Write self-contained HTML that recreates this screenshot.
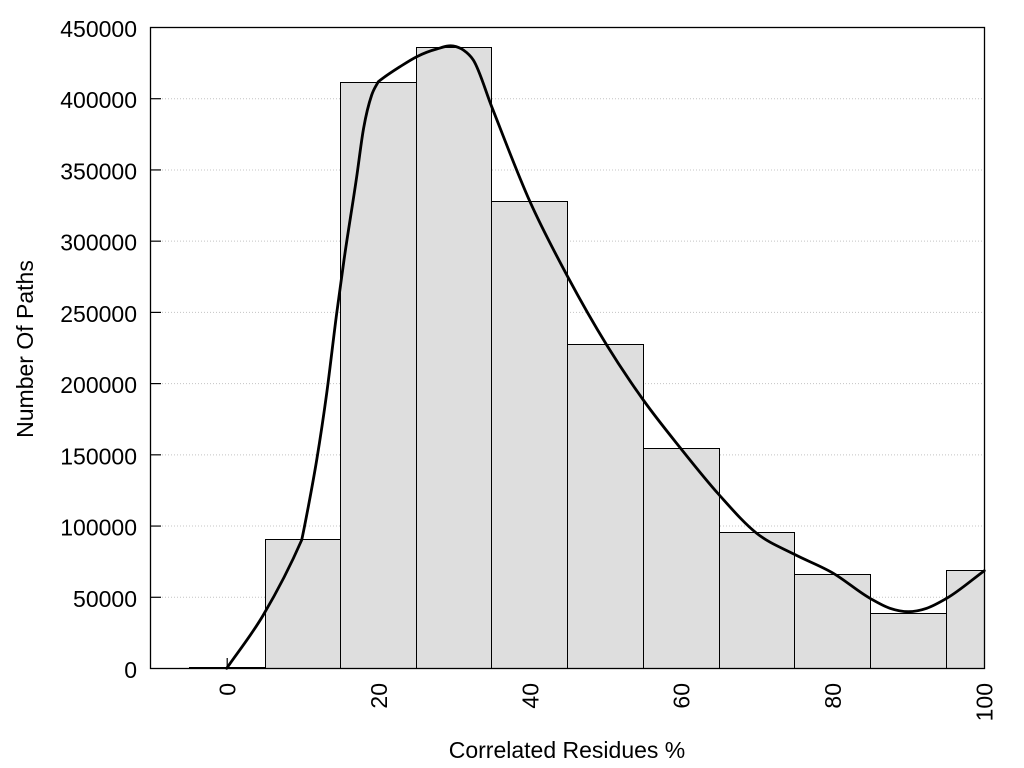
<!DOCTYPE html>
<html>
<head>
<meta charset="utf-8">
<style>
  html, body { margin: 0; padding: 0; background: #ffffff; }
  svg { display: block; }
  text { font-family: "Liberation Sans", Arial, sans-serif; fill: #000; }
</style>
</head>
<body>
<svg width="1024" height="768" viewBox="0 0 1024 768" xmlns="http://www.w3.org/2000/svg">
  <rect x="0" y="0" width="1024" height="768" fill="#ffffff"/>

  <!-- grid lines (dotted) -->
  <g stroke="#c4c4c4" stroke-width="1" stroke-dasharray="1 2" fill="none">
    <line x1="162" y1="597.28" x2="984" y2="597.28"/>
    <line x1="162" y1="526.06" x2="984" y2="526.06"/>
    <line x1="162" y1="454.83" x2="984" y2="454.83"/>
    <line x1="162" y1="383.61" x2="984" y2="383.61"/>
    <line x1="162" y1="312.39" x2="984" y2="312.39"/>
    <line x1="162" y1="241.17" x2="984" y2="241.17"/>
    <line x1="162" y1="169.94" x2="984" y2="169.94"/>
    <line x1="162" y1="98.72" x2="984" y2="98.72"/>
  </g>

  <!-- ticks -->
  <g stroke="#000" stroke-width="1.2" fill="none">
    <line x1="150.5" y1="597.28" x2="161" y2="597.28"/>
    <line x1="150.5" y1="526.06" x2="161" y2="526.06"/>
    <line x1="150.5" y1="454.83" x2="161" y2="454.83"/>
    <line x1="150.5" y1="383.61" x2="161" y2="383.61"/>
    <line x1="150.5" y1="312.39" x2="161" y2="312.39"/>
    <line x1="150.5" y1="241.17" x2="161" y2="241.17"/>
    <line x1="150.5" y1="169.94" x2="161" y2="169.94"/>
    <line x1="150.5" y1="98.72" x2="161" y2="98.72"/>
    <line x1="227.2" y1="668.5" x2="227.2" y2="658"/>
    <line x1="378.6" y1="668.5" x2="378.6" y2="658"/>
    <line x1="530" y1="668.5" x2="530" y2="658"/>
    <line x1="681.4" y1="668.5" x2="681.4" y2="658"/>
    <line x1="832.8" y1="668.5" x2="832.8" y2="658"/>
  </g>

  <!-- bars -->
  <g fill="#dedede" stroke="#000" stroke-width="1">
    <rect x="189.5" y="667.5" width="76" height="1"/>
    <rect x="265.5" y="539.5" width="75" height="129"/>
    <rect x="340.5" y="82.5" width="76" height="586"/>
    <rect x="416.5" y="47.5" width="75" height="621"/>
    <rect x="491.5" y="201.5" width="76" height="467"/>
    <rect x="567.5" y="344.5" width="76" height="324"/>
    <rect x="643.5" y="448.5" width="76" height="220"/>
    <rect x="719.5" y="532.5" width="75" height="136"/>
    <rect x="794.5" y="574.5" width="76" height="94"/>
    <rect x="870.5" y="613.5" width="76" height="55"/>
    <rect x="946.5" y="570.5" width="38" height="98"/>
  </g>

  <!-- curve -->
  <path id="curve" fill="none" stroke="#000" stroke-width="2.8" stroke-linejoin="round" stroke-linecap="round"
    d="M226.7,668.3 L263.3,615 L301.7,540 L308.3,506.7 L316.7,460 L326.7,393.3 L336.7,313.3 L344,260 L356.7,176.7 L363.3,130 L371.7,95 L378.3,81.7 L400,66.7 L416.7,56.7 L436.7,49 L453.3,46 L463.3,50 L473.3,60 L491.7,106.7 L530,201.7 L567.7,276.7 L606.7,345 L643.3,400 L680,447.5 L719.3,495 L756.7,533.3 L794.3,554.3 L833.3,573.3 L870,598.3 L890,608.3 L908.3,611.7 L926.7,608.3 L946.7,598.3 L984.3,570.7"/>

  <!-- frame -->
  <rect x="150.5" y="27.5" width="834" height="641" fill="none" stroke="#000" stroke-width="1.3"/>

  <!-- y tick labels -->
  <g font-size="23" text-anchor="end">
    <text x="137" y="678">0</text>
    <text x="137" y="606.8">50000</text>
    <text x="137" y="535.6">100000</text>
    <text x="137" y="464.3">150000</text>
    <text x="137" y="393.1">200000</text>
    <text x="137" y="321.9">250000</text>
    <text x="137" y="250.7">300000</text>
    <text x="137" y="179.4">350000</text>
    <text x="137" y="108.2">400000</text>
    <text x="137" y="37">450000</text>
  </g>

  <!-- x tick labels (rotated) -->
  <g font-size="23" text-anchor="end">
    <text transform="translate(235.5,683) rotate(-90)">0</text>
    <text transform="translate(386.9,683) rotate(-90)">20</text>
    <text transform="translate(538.3,683) rotate(-90)">40</text>
    <text transform="translate(689.7,683) rotate(-90)">60</text>
    <text transform="translate(841.1,683) rotate(-90)">80</text>
    <text transform="translate(992.5,683) rotate(-90)">100</text>
  </g>

  <!-- axis titles -->
  <text x="567" y="758" font-size="23" text-anchor="middle">Correlated Residues %</text>
  <text transform="translate(33,349) rotate(-90)" font-size="23" text-anchor="middle">Number Of Paths</text>
</svg>
<script>
(function(){
  var p = document.getElementById('curve');
  var d = p.getAttribute('d');
  var nums = d.match(/-?\d+(\.\d+)?/g).map(Number);
  var pts = [];
  for (var i = 0; i < nums.length; i += 2) pts.push([nums[i], nums[i+1]]);
  var n = pts.length, h = [], s = [], mL = [], mR = [];
  for (var i = 0; i < n - 1; i++) {
    h[i] = pts[i+1][0] - pts[i][0];
    s[i] = (pts[i+1][1] - pts[i][1]) / h[i];
  }
  mL[0] = mR[0] = s[0];
  mL[n-1] = mR[n-1] = s[n-2];
  for (var i = 1; i < n - 1; i++) {
    mL[i] = mR[i] = (s[i-1] * h[i] + s[i] * h[i-1]) / (h[i-1] + h[i]);
  }
  // corners (explicit left/right tangents, screen coords)
  var corners = { "301.7": [-2.3, -4.6], "378.3": [-1.9, -0.8] };
  for (var i = 0; i < n; i++) {
    var c = corners[String(pts[i][0])];
    if (c) { mL[i] = c[0]; mR[i] = c[1]; }
  }
  var out = 'M' + pts[0][0] + ',' + pts[0][1];
  for (var i = 0; i < n - 1; i++) {
    var x1 = pts[i][0], y1 = pts[i][1], x2 = pts[i+1][0], y2 = pts[i+1][1], dx = h[i] / 3;
    out += ' C' + (x1 + dx).toFixed(2) + ',' + (y1 + mR[i] * dx).toFixed(2) + ' ' +
           (x2 - dx).toFixed(2) + ',' + (y2 - mL[i+1] * dx).toFixed(2) + ' ' + x2 + ',' + y2;
  }
  p.setAttribute('d', out);
})();
</script>
</body>
</html>
